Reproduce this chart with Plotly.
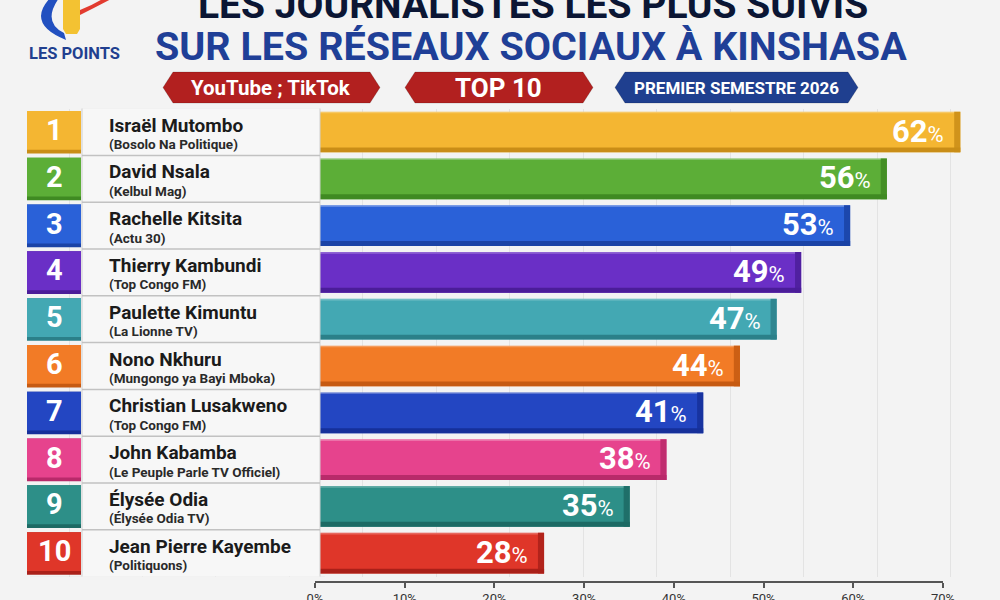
import plotly.graph_objects as go

# ---------------- data ----------------
ranks = [1, 2, 3, 4, 5, 6, 7, 8, 9, 10]
names = ["Israël Mutombo", "David Nsala", "Rachelle Kitsita", "Thierry Kambundi",
         "Paulette Kimuntu", "Nono Nkhuru", "Christian Lusakweno", "John Kabamba",
         "Élysée Odia", "Jean Pierre Kayembe"]
outlets = ["(Bosolo Na Politique)", "(Kelbul Mag)", "(Actu 30)", "(Top Congo FM)",
           "(La Lionne TV)", "(Mungongo ya Bayi Mboka)", "(Top Congo FM)",
           "(Le Peuple Parle TV Officiel)", "(Élysée Odia TV)", "(Politiquons)"]
values = [62, 56, 53, 49, 47, 44, 41, 38, 35, 28]
tick_values = [0, 10, 20, 30, 40, 50, 60, 70]
tick_labels = [f"{t}%" for t in tick_values]

colors = ["#f4b632", "#5cae37", "#2a61d8", "#6a2fc6", "#43a8b3",
          "#f27b26", "#2346c2", "#e6438d", "#2d8f88", "#df3629"]
dark = ["#c98d17", "#3f8a22", "#1a43a6", "#4b1d99", "#2b8089",
        "#c65a12", "#16309a", "#b82a6a", "#1d6a64", "#aa2019"]

W, H = 1000, 600
def P(x, y):
    return f"{x / W:.4f},{1 - y / H:.4f}"

def ppath(pts):
    return "M " + " L ".join(P(x, y) for x, y in pts) + " Z"

FONT = "Roboto, Liberation Sans, sans-serif"

fig = go.Figure()

fig.add_trace(go.Bar(
    y=ranks, x=values, orientation="h", width=0.87,
    marker=dict(color=colors, line=dict(width=0)),
    hoverinfo="skip", showlegend=False, xaxis="x", yaxis="y",
))
# invisible trace carrying the tick axis
fig.add_trace(go.Scatter(
    x=[tick_values[0], tick_values[-1]], y=[1, 1], mode="markers",
    marker=dict(opacity=0), xaxis="x2", yaxis="y", hoverinfo="skip", showlegend=False,
))

shapes = []
annotations = []

# 3D bevels on bars (bottom and right faces, top highlight)
for r, v, c, d in zip(ranks, values, colors, dark):
    shapes.append(dict(type="rect", xref="x", yref="y", x0=0, x1=v,
                       y0=r + 0.33, y1=r + 0.435, fillcolor=d, line=dict(width=0),
                       layer="above"))
    shapes.append(dict(type="rect", xref="x", yref="y", x0=v - 0.5, x1=v,
                       y0=r - 0.435, y1=r + 0.435, fillcolor=d, line=dict(width=0),
                       opacity=0.85, layer="above"))
    shapes.append(dict(type="rect", xref="x", yref="y", x0=0, x1=v - 0.5,
                       y0=r - 0.435, y1=r - 0.40, fillcolor="rgba(255,255,255,0.25)",
                       line=dict(width=0), layer="above"))

# shadow under label panel
shapes.append(dict(type="rect", xref="paper", yref="y", x0=30 / W, x1=325 / W,
                   y0=10.5, y1=10.62, fillcolor="rgba(0,0,0,0.10)", line=dict(width=0),
                   layer="above"))
# label panel
shapes.append(dict(type="rect", xref="paper", yref="y", x0=82 / W, x1=320 / W,
                   y0=0.48, y1=10.52, fillcolor="#f7f7f7", line=dict(color="#cfcfcf", width=1),
                   layer="above"))
for r in ranks[:-1]:
    shapes.append(dict(type="line", xref="paper", yref="y", x0=82 / W, x1=320 / W,
                       y0=r + 0.5, y1=r + 0.5, line=dict(color="#c2c2c2", width=1.5),
                       layer="above"))

# rank boxes
for r, c, d in zip(ranks, colors, dark):
    shapes.append(dict(type="rect", xref="paper", yref="y", x0=27 / W, x1=81 / W,
                       y0=r - 0.45, y1=r + 0.46, fillcolor=d, line=dict(width=0),
                       layer="above"))
    shapes.append(dict(type="rect", xref="paper", yref="y", x0=27 / W, x1=81 / W,
                       y0=r - 0.45, y1=r + 0.38, fillcolor=c, line=dict(width=0),
                       layer="above"))
    annotations.append(dict(xref="paper", yref="y", x=54 / W, y=r, text=f"<b>{r}</b>",
                            showarrow=False, xanchor="center", yanchor="middle",
                            yshift=2, font=dict(family=FONT, size=29, color="white")))

# names and outlets
for r, n, o in zip(ranks, names, outlets):
    annotations.append(dict(xref="paper", yref="y", x=107 / W, y=r, text=f"<b>{n}</b>",
                            showarrow=False, xanchor="left", yanchor="middle", yshift=7,
                            font=dict(family=FONT, size=19, color="#1b1b1b")))
    annotations.append(dict(xref="paper", yref="y", x=107 / W, y=r, text=f"<b>{o}</b>",
                            showarrow=False, xanchor="left", yanchor="middle", yshift=-12,
                            font=dict(family=FONT, size=13.5, color="#2a2a2a")))

# value labels
for r, v in zip(ranks, values):
    annotations.append(dict(xref="x", yref="y", x=v, y=r,
                            text=f"<b>{v}</b><span style='font-size:22px'>%</span>",
                            showarrow=False, xanchor="right", yanchor="middle",
                            xshift=-14, yshift=1,
                            font=dict(family=FONT, size=31, color="white")))

# ---------------- header ----------------
# logo
shapes.append(dict(type="path", xref="paper", yref="paper",
                   path="M " + P(50, -2) + " Q " + P(26, 24) + " " + P(66, 40) +
                        " L " + P(64, 33) + " Q " + P(42, 22) + " " + P(59, -2) + " Z",
                   fillcolor="#2250c0", line=dict(width=0)))
shapes.append(dict(type="path", xref="paper", yref="paper",
                   path=ppath([(63, -2), (80, -2), (80, 29), (77, 34), (66, 34), (63, 29)]),
                   fillcolor="#f3c232", line=dict(width=0)))
shapes.append(dict(type="path", xref="paper", yref="paper",
                   path="M " + P(80, 15) + " Q " + P(96, 7) + " " + P(113, -2) +
                        " L " + P(104, -2) + " Q " + P(93, 5) + " " + P(80, 10) + " Z",
                   fillcolor="#e23b2f", line=dict(width=0)))
annotations.append(dict(xref="paper", yref="paper", x=74 / W, y=1 - 53 / H,
                        text="<b>LES POINTS</b>", showarrow=False, xanchor="center",
                        yanchor="middle", font=dict(family=FONT, size=16.5, color="#213f8f")))

# titles
annotations.append(dict(xref="paper", yref="paper", x=533 / W, y=1 - 5 / H,
                        text="<b>LES JOURNALISTES LES PLUS SUIVIS</b>", showarrow=False,
                        xanchor="center", yanchor="middle",
                        font=dict(family=FONT, size=39, color="#0b1634")))
annotations.append(dict(xref="paper", yref="paper", x=531 / W, y=1 - 46 / H,
                        text="<b>SUR LES RÉSEAUX SOCIAUX À KINSHASA</b>", showarrow=False,
                        xanchor="center", yanchor="middle",
                        font=dict(family=FONT, size=39.5, color="#1f3f97")))

# badges
def badge(x0, x1, y0, y1, fill):
    ym = (y0 + y1) / 2
    k = 10
    return dict(type="path", xref="paper", yref="paper",
                path=ppath([(x0, ym), (x0 + k, y0), (x1 - k, y0), (x1, ym), (x1 - k, y1), (x0 + k, y1)]),
                fillcolor=fill, line=dict(color="rgba(0,0,0,0.15)", width=1))

shapes.append(badge(163, 380, 72, 103, "#b2201f"))
shapes.append(badge(405, 593, 72, 103, "#b2201f"))
shapes.append(badge(615, 858, 72, 103, "#1f3f8f"))
for cx, txt, sz in [(271, "YouTube ; TikTok", 20.5), (498, "TOP 10", 26),
                    (736, "PREMIER SEMESTRE 2026", 17)]:
    annotations.append(dict(xref="paper", yref="paper", x=cx / W, y=1 - 88 / H,
                            text=f"<b>{txt}</b>", showarrow=False,
                            xanchor="center", yanchor="middle",
                            font=dict(family=FONT, size=sz, color="white")))

fig.update_layout(
    width=W, height=H,
    margin=dict(l=0, r=0, t=0, b=0, pad=0, autoexpand=False),
    paper_bgcolor="#f3f3f3", plot_bgcolor="rgba(0,0,0,0)",
    bargap=0.13,
    xaxis=dict(range=[-16.44, 65.24], domain=[0, 1], showticklabels=False, ticks="",
               showgrid=True, gridcolor="#e3e3e3", gridwidth=1, tick0=31.2, dtick=6,
               zeroline=False, showline=False, fixedrange=True, automargin=False),
    xaxis2=dict(range=[tick_values[0], tick_values[-1]], domain=[0.315, 0.943],
                anchor="free", position=1 - 582 / H, side="bottom",
                tickmode="array", tickvals=tick_values, ticktext=tick_labels,
                ticks="outside", ticklen=5, automargin=False,
                tickcolor="#555", tickwidth=1.5, showline=True, linecolor="#555",
                linewidth=1.5, showgrid=False, zeroline=False, fixedrange=True,
                tickfont=dict(family=FONT, size=13, color="#333")),
    yaxis=dict(range=[10.5, 0.5], domain=[0.039, 0.819], visible=False, fixedrange=True,
               automargin=False),
    shapes=shapes, annotations=annotations,
    showlegend=False,
)

fig.write_html("out.html")
